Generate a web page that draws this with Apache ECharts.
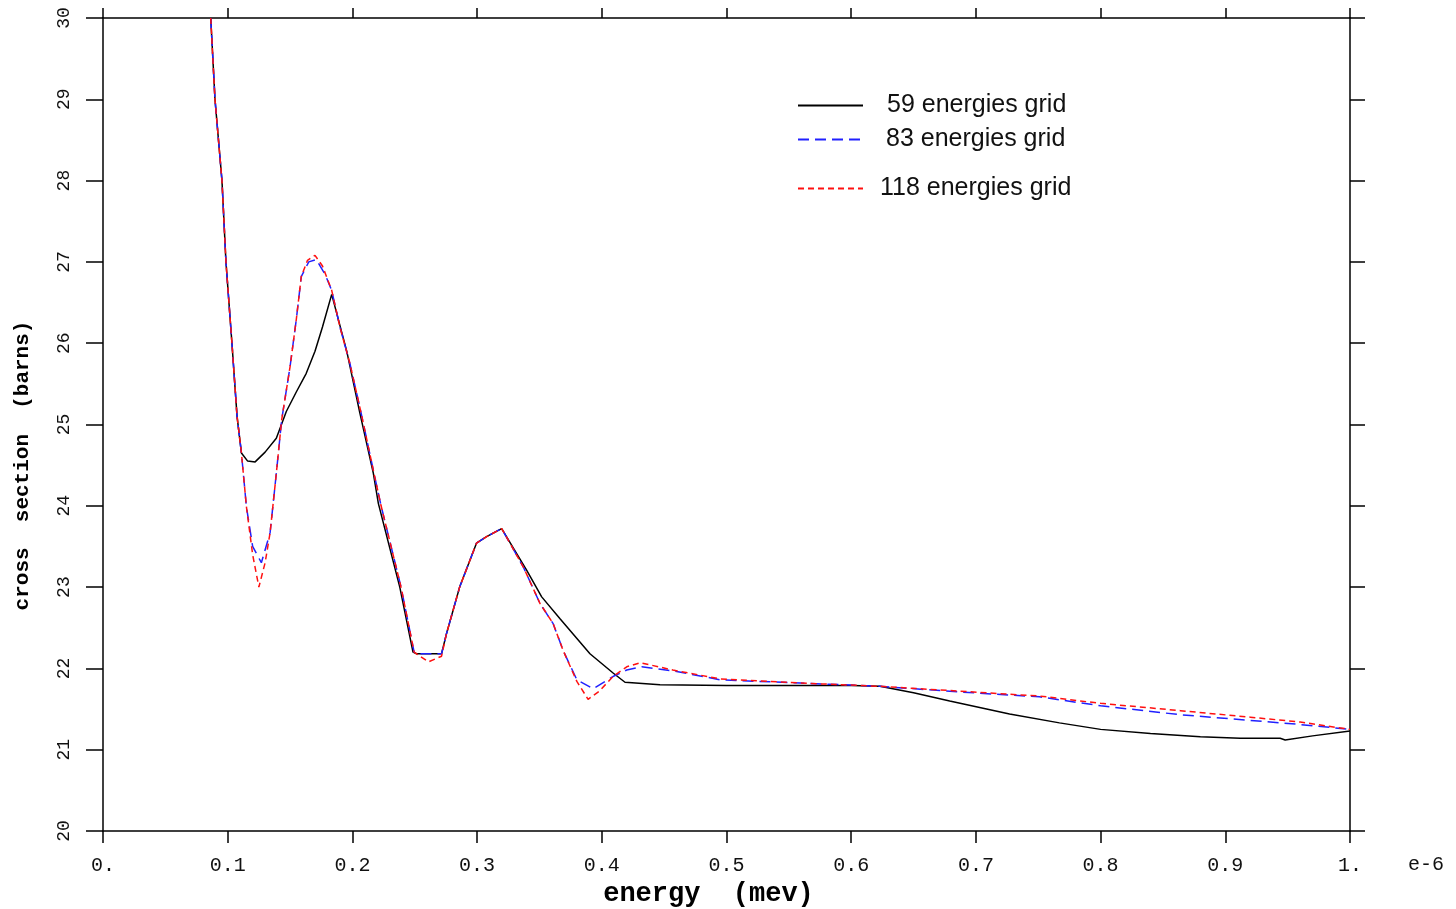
<!DOCTYPE html>
<html>
<head>
<meta charset="utf-8">
<script src="https://cdn.jsdelivr.net/npm/echarts@6/dist/echarts.min.js"></script>
<style>
  html, body { margin: 0; padding: 0; background: #fff; }
  #chart { width: 1456px; height: 909px; }
</style>
</head>
<body>
<div id="chart"></div>
<script>
// cross section vs energy, three energy grids (x in units of 1e-6 MeV)
var seriesNames = ['59 energies grid', '83 energies grid', '118 energies grid'];

var grid59 = [
    [0.0864, 30], [0.0898, 29], [0.0954, 28], [0.0986, 27], [0.1034, 26], [0.1075, 25.1],
    [0.111, 24.65], [0.116, 24.55], [0.122, 24.54], [0.13, 24.66], [0.139, 24.83], [0.147, 25.16],
    [0.155, 25.4], [0.163, 25.63], [0.17, 25.9], [0.176, 26.2], [0.1834, 26.6], [0.1955, 25.9],
    [0.206, 25.14], [0.2168, 24.4], [0.2208, 24.03], [0.238, 23.0], [0.2486, 22.2], [0.2515, 22.18],
    [0.2715, 22.18], [0.2755, 22.43], [0.286, 23.0], [0.2995, 23.54], [0.3076, 23.62], [0.3197, 23.72],
    [0.3397, 23.21], [0.3518, 22.88], [0.3665, 22.61], [0.3905, 22.18], [0.4093, 21.94], [0.4186, 21.83],
    [0.4467, 21.8], [0.5, 21.79], [0.55, 21.79], [0.6, 21.79], [0.623, 21.78], [0.65, 21.7],
    [0.679, 21.6], [0.727, 21.44], [0.767, 21.33], [0.8, 21.25], [0.84, 21.2], [0.88, 21.16],
    [0.912, 21.14], [0.944, 21.14], [0.948, 21.12], [0.97, 21.17], [1.0, 21.23]
];

var grid83 = [
    [0.0864, 30], [0.0898, 29], [0.0954, 28], [0.0986, 27], [0.1034, 26], [0.1075, 25.1],
    [0.111, 24.65], [0.115, 23.99], [0.12, 23.5], [0.127, 23.3], [0.134, 23.67], [0.139, 24.4],
    [0.1433, 25.06], [0.15, 25.71], [0.155, 26.29], [0.159, 26.82], [0.165, 27.0], [0.171, 27.03],
    [0.178, 26.85], [0.1834, 26.65], [0.19, 26.2], [0.198, 25.75], [0.207, 25.14], [0.218, 24.35],
    [0.223, 24.0], [0.239, 23.0], [0.2495, 22.2], [0.2515, 22.18], [0.2715, 22.18], [0.2755, 22.43],
    [0.286, 23.0], [0.2995, 23.54], [0.3076, 23.62], [0.3197, 23.72], [0.337, 23.25], [0.3504, 22.8],
    [0.361, 22.55], [0.369, 22.22], [0.38, 21.86], [0.393, 21.75], [0.409, 21.9], [0.42, 21.98],
    [0.432, 22.02], [0.457, 21.97], [0.495, 21.86], [0.559, 21.82], [0.623, 21.78], [0.687, 21.71],
    [0.751, 21.65], [0.8, 21.54], [0.864, 21.43], [0.92, 21.36], [0.96, 21.31], [1.0, 21.25]
];

var grid118 = [
    [0.0864, 30], [0.0898, 29], [0.0954, 28], [0.0986, 27], [0.1034, 26], [0.1075, 25.1],
    [0.111, 24.65], [0.115, 23.99], [0.12, 23.4], [0.125, 23.0], [0.13, 23.3], [0.134, 23.67],
    [0.139, 24.4], [0.1433, 25.06], [0.15, 25.71], [0.155, 26.29], [0.159, 26.82], [0.164, 27.02],
    [0.17, 27.08], [0.176, 26.95], [0.1834, 26.65], [0.19, 26.2], [0.198, 25.75], [0.207, 25.14],
    [0.218, 24.35], [0.223, 24.0], [0.239, 23.0], [0.2495, 22.2], [0.261, 22.08], [0.2715, 22.15],
    [0.2755, 22.43], [0.286, 23.0], [0.2995, 23.54], [0.3076, 23.62], [0.3197, 23.72], [0.337, 23.25],
    [0.3504, 22.8], [0.361, 22.55], [0.369, 22.22], [0.38, 21.84], [0.389, 21.62], [0.398, 21.72],
    [0.409, 21.9], [0.42, 22.02], [0.431, 22.07], [0.457, 21.98], [0.495, 21.87], [0.559, 21.82],
    [0.623, 21.78], [0.687, 21.72], [0.751, 21.66], [0.8, 21.57], [0.864, 21.48], [0.92, 21.4],
    [0.96, 21.34], [1.0, 21.25]
];

var xTicks = [0, 1, 0.1];   // min, max, interval
var yTicks = [20, 30, 1];

var mono = '"Liberation Mono", "DejaVu Sans Mono", monospace';
var sans = '"Liberation Sans", Arial, sans-serif';

var axisCommon = {
    axisLine: { show: true, onZero: false, lineStyle: { color: '#000', width: 1.5 } },
    axisTick: { show: true, inside: false, lineStyle: { color: '#000', width: 1.5 } },
    splitLine: { show: false }
};

function legendAt(name, top, pad) {
    return {
        data: [name],
        left: 797,
        top: top,
        padding: 0,
        orient: 'vertical',
        itemWidth: 65,
        itemHeight: 20,
        selectedMode: false,
        itemStyle: { opacity: 0 },
        textStyle: { fontFamily: sans, fontSize: 25, color: '#111', padding: [0, 0, 0, pad] }
    };
}

var chart = echarts.init(document.getElementById('chart'));
chart.setOption({
    backgroundColor: '#fff',
    animation: false,
    grid: { left: 103, right: 106, top: 18, bottom: 78, outerBoundsMode: 'none', containLabel: false },
    legend: [
        legendAt(seriesNames[0], 93, 19),
        legendAt(seriesNames[1], 127, 18),
        legendAt(seriesNames[2], 176, 12)
    ],
    xAxis: [
        Object.assign({}, axisCommon, {
            type: 'value', position: 'bottom',
            min: xTicks[0], max: xTicks[1], interval: xTicks[2],
            axisTick: Object.assign({}, axisCommon.axisTick, { length: 12 }),
            axisLabel: {
                margin: 25, fontFamily: mono, fontSize: 20, color: '#111',
                formatter: function(v) {
                    if (v === 0) return '0.';
                    if (v === 1) return '1.';
                    return v.toFixed(1);
                }
            },
            name: 'energy  (mev)',
            nameLocation: 'middle',
            nameGap: 50,
            nameTextStyle: { fontFamily: mono, fontSize: 27, fontWeight: 'bold', color: '#000', padding: [0, 36, 0, 0] }
        }),
        Object.assign({}, axisCommon, {
            type: 'value', position: 'top',
            min: xTicks[0], max: xTicks[1], interval: xTicks[2],
            axisTick: Object.assign({}, axisCommon.axisTick, { length: 10 }),
            axisLabel: { show: false }
        })
    ],
    yAxis: [
        Object.assign({}, axisCommon, {
            type: 'value', position: 'left',
            min: yTicks[0], max: yTicks[1], interval: yTicks[2],
            axisTick: Object.assign({}, axisCommon.axisTick, { length: 17 }),
            axisLabel: { rotate: 90, margin: 30, fontFamily: mono, fontSize: 18, color: '#111' },
            name: 'cross  section  (barns)',
            nameLocation: 'middle',
            nameGap: 70,
            nameTextStyle: { fontFamily: mono, fontSize: 21, fontWeight: 'bold', color: '#000', padding: [0, 82, 0, 0] }
        }),
        Object.assign({}, axisCommon, {
            type: 'value', position: 'right',
            min: yTicks[0], max: yTicks[1], interval: yTicks[2],
            axisTick: Object.assign({}, axisCommon.axisTick, { length: 15 }),
            axisLabel: { show: false }
        })
    ],
    graphic: [{
        type: 'text', left: 1408, top: 855,
        style: { text: 'e-6', font: '20px ' + mono, fill: '#111' }
    }],
    series: [
        {
            name: seriesNames[0], type: 'line', data: grid59, symbol: 'none',
            lineStyle: { color: '#000', width: 1.5 }, itemStyle: { color: '#000' }
        },
        {
            name: seriesNames[1], type: 'line', data: grid83, symbol: 'none',
            lineStyle: { color: '#2020ff', width: 1.5, type: [11, 6] }, itemStyle: { color: '#2020ff' }
        },
        {
            name: seriesNames[2], type: 'line', data: grid118, symbol: 'none',
            lineStyle: { color: '#ff1010', width: 1.5, type: [6, 4] }, itemStyle: { color: '#ff1010' }
        }
    ]
});
</script>
</body>
</html>
